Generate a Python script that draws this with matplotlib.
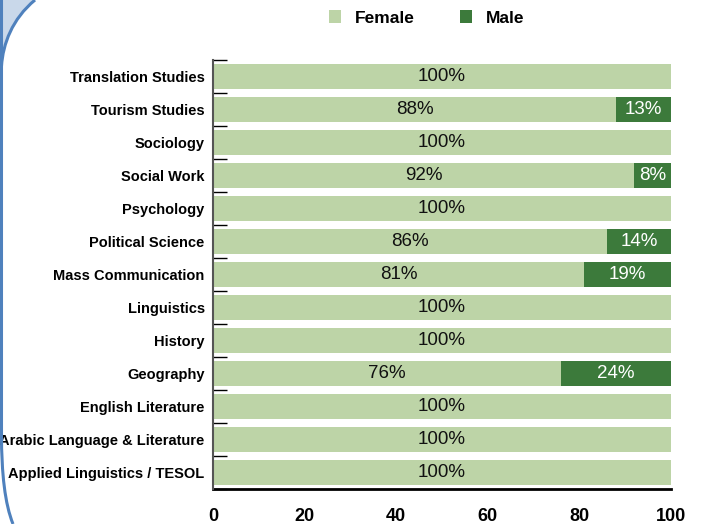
import matplotlib
matplotlib.use("Agg")
import matplotlib.pyplot as plt
from matplotlib.patches import Patch, PathPatch
from matplotlib.path import Path
import numpy as np

plt.rcParams["font.family"] = ["Liberation Sans", "DejaVu Sans"]

# Share of students by gender, per programme (percent)
programmes = [
    "Translation Studies",
    "Tourism Studies",
    "Sociology",
    "Social Work",
    "Psychology",
    "Political Science",
    "Mass Communication",
    "Linguistics",
    "History",
    "Geography",
    "English Literature",
    "Arabic Language & Literature",
    "Applied Linguistics / TESOL",
]
female = [100, 88, 100, 92, 100, 86, 81, 100, 100, 76, 100, 100, 100]
male = [0, 13, 0, 8, 0, 14, 19, 0, 0, 24, 0, 0, 0]
x_ticks = [0, 20, 40, 60, 80, 100]

FEMALE_COLOR = "#BDD4A7"
MALE_COLOR = "#3C7A3B"
FRAME_BLUE = "#4F81BD"

W, H = 704, 524
fig = plt.figure(figsize=(W / 100, H / 100), dpi=100)
fig.patch.set_facecolor("white")

# Slide frame decoration along the left edge (pixel coordinates)
top_fill = Path(
    [(0, H), (35, H), (12, 505), (3, 480), (1.5, 458), (0, 458), (0, H)],
    [Path.MOVETO, Path.LINETO, Path.CURVE4, Path.CURVE4, Path.CURVE4,
     Path.LINETO, Path.CLOSEPOLY],
)
fig.patches.append(PathPatch(top_fill, transform=None, facecolor="#C9D8EA",
                             edgecolor="none", zorder=0))
top_curve = Path([(35, H), (12, 505), (3, 480), (1.5, 458)],
                 [Path.MOVETO, Path.CURVE4, Path.CURVE4, Path.CURVE4])
fig.patches.append(PathPatch(top_curve, transform=None, facecolor="none",
                             edgecolor=FRAME_BLUE, lw=2.2, zorder=1))
side = Path([(1.5, H), (1.5, 90), (1.5, 50), (5, 20), (13, 0)],
            [Path.MOVETO, Path.LINETO, Path.CURVE4, Path.CURVE4, Path.CURVE4])
fig.patches.append(PathPatch(side, transform=None, facecolor="none",
                             edgecolor=FRAME_BLUE, lw=2.2, zorder=1))

ax = fig.add_axes([213 / W, 1 - 489 / H, (671 - 213) / W, (489 - 60) / H])

y = np.arange(len(programmes))
bar_h = 0.76
ax.barh(y, female, height=bar_h, color=FEMALE_COLOR, edgecolor="none", zorder=2)
ax.barh(y, male, left=female, height=bar_h, color=MALE_COLOR, edgecolor="none", zorder=2)

for yi, f, m in zip(y, female, male):
    if f > 0:
        ax.text(f / 2, yi, f"{f}%", ha="center", va="center",
                fontsize=13.5, color="#111111", zorder=3)
    if m > 0:
        ax.text(f + min(m, 100 - f) / 2, yi, f"{m}%", ha="center", va="center",
                fontsize=13.5, color="white", zorder=3)

ax.set_xlim(0, 100)
ax.set_ylim(len(programmes) - 0.5, -0.5)

ax.set_xticks(x_ticks)
ax.set_xticklabels([str(t) for t in x_ticks], fontsize=13, fontweight="bold")
ax.tick_params(axis="x", length=0, pad=14)

ax.set_yticks(y)
ax.set_yticklabels(programmes, fontsize=10.5, fontweight="bold")
ax.tick_params(axis="y", which="major", length=0, pad=6)
ax.set_yticks(np.arange(-0.5, len(programmes), 1.0), minor=True)
ax.tick_params(axis="y", which="minor", direction="in", length=10, width=1.0,
               color="black")

for s in ("top", "right"):
    ax.spines[s].set_visible(False)
ax.spines["left"].set_color("#555555")
ax.spines["left"].set_linewidth(1.5)
ax.spines["bottom"].set_color("black")
ax.spines["bottom"].set_linewidth(2)
ax.spines["left"].set_zorder(4)

handles = [Patch(facecolor=FEMALE_COLOR, edgecolor="none", label="Female"),
           Patch(facecolor=MALE_COLOR, edgecolor="none", label="Male")]
fig.legend(handles=handles, loc="center", bbox_to_anchor=(427 / W, 1 - 18 / H),
           ncol=2, frameon=False, prop={"size": 12.5, "weight": "bold"},
           handlelength=0.7, handleheight=0.7, handletextpad=0.8,
           columnspacing=2.6)

fig.savefig("out.png", dpi=100, facecolor="white")
